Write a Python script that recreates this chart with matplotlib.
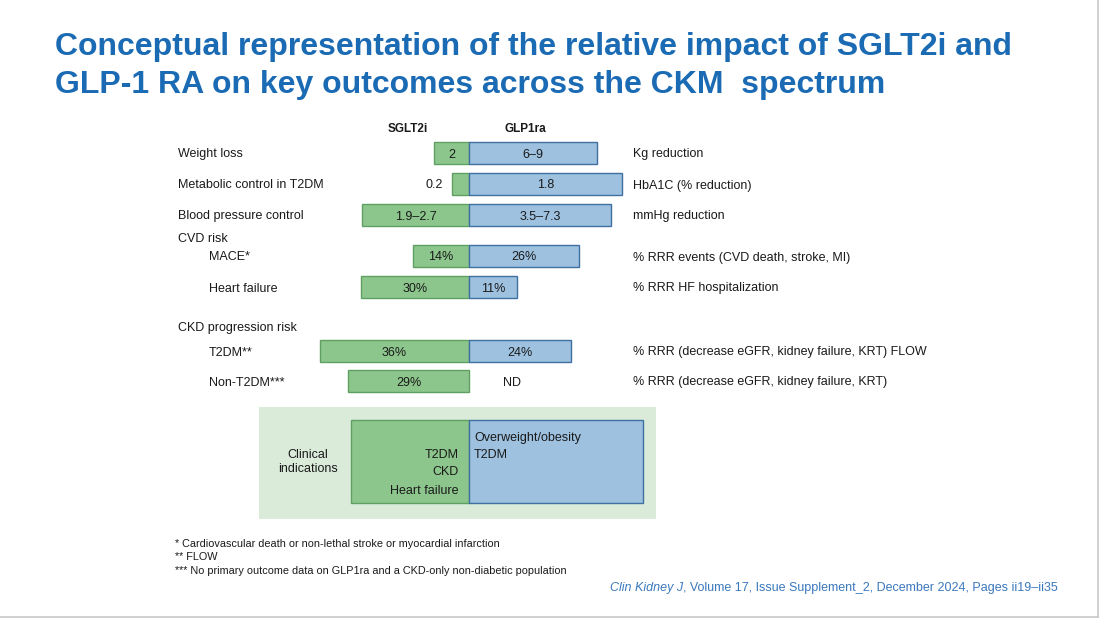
import matplotlib
matplotlib.use("Agg")
import matplotlib.pyplot as plt
from matplotlib.patches import Rectangle
from matplotlib.lines import Line2D

# ---------------- data ----------------
title_lines = ["Conceptual representation of the relative impact of SGLT2i and",
               "GLP-1 RA on key outcomes across the CKM  spectrum"]
drug_names = ["SGLT2i", "GLP1ra"]
outcomes = ["Weight loss", "Metabolic control in T2DM", "Blood pressure control",
            "MACE*", "Heart failure", "T2DM**", "Non-T2DM***"]
indented = [False, False, False, True, True, True, True]
# conceptual bar lengths (arbitrary units)
sglt2_len = [35, 17, 107, 56, 108, 149, 121]
glp1_len = [128, 153, 142, 110, 48, 102, 0]
sglt2_labels = ["2", "0.2", "1.9\u20132.7", "14%", "30%", "36%", "29%"]
glp1_labels = ["6\u20139", "1.8", "3.5\u20137.3", "26%", "11%", "24%", "ND"]
units = ["Kg reduction", "HbA1C (% reduction)", "mmHg reduction",
         "% RRR events (CVD death, stroke, MI)", "% RRR HF hospitalization",
         "% RRR (decrease eGFR, kidney failure, KRT) FLOW",
         "% RRR (decrease eGFR, kidney failure, KRT)"]
group_headings = ["CVD risk", "CKD progression risk"]
indication_title = "Clinical\nindications"
sglt2_indications = ["T2DM", "CKD", "Heart failure"]
glp1_indications = ["Overweight/obesity", "T2DM"]
indication_len = [118, 174]
footnotes = ["* Cardiovascular death or non-lethal stroke or myocardial infarction",
             "** FLOW",
             "*** No primary outcome data on GLP1ra and a CKD-only non-diabetic population"]
citation_italic = "Clin Kidney J"
citation_rest = ", Volume 17, Issue Supplement_2, December 2024, Pages ii19\u2013ii35"

# ---------------- style ----------------
W, H = 1101, 625
plt.rcParams['font.family'] = ['Liberation Sans', 'DejaVu Sans']
GREEN, GREEN_E = "#8cc68c", "#5f9f62"
BLUE, BLUE_E = "#9dc1df", "#3f70a0"
BOXBG = "#daebda"
TITLE_C = "#1b6bb4"
CIT_C = "#3a78bd"
TXT = "#1a1a1a"

fig = plt.figure(figsize=(W / 100, H / 100), dpi=100)
fig.patch.set_facecolor("white")
ax = fig.add_axes([0, 0, 1, 1])
X0 = 469  # centre divider (pixel)
ax.set_xlim(-X0, W - X0)
ax.set_ylim(H, 0)
ax.axis("off")

# title
for yy, line in zip([55.5, 93], title_lines):
    ax.text(55 - X0, yy, line, fontsize=23, fontweight="bold",
            color=TITLE_C, ha="left", va="baseline")

# headers
ax.text(408 - X0, 127, drug_names[0], fontsize=8.5, fontweight="bold", ha="center", va="center_baseline", color=TXT)
ax.text(525 - X0, 127, drug_names[1], fontsize=8.5, fontweight="bold", ha="center", va="center_baseline", color=TXT)

row_y = [153, 184, 215, 256, 287, 351, 381]
heading_y = [238, 327]
bh = 22

ax.barh(row_y, [-v for v in sglt2_len], left=0, height=bh, color=GREEN,
        edgecolor=GREEN_E, linewidth=1)
gy = [y for y, v in zip(row_y, glp1_len) if v > 0]
gv = [v for v in glp1_len if v > 0]
ax.barh(gy, gv, left=0, height=bh, color=BLUE, edgecolor=BLUE_E, linewidth=1)

fs = 9
VA = "center_baseline"
for y, name, ind, sl, gl, slab, glab, u in zip(row_y, outcomes, indented, sglt2_len,
                                                glp1_len, sglt2_labels, glp1_labels, units):
    ax.text((209 if ind else 178) - X0, y, name, fontsize=fs, ha="left", va=VA, color=TXT)
    if sl >= 25:
        ax.text(-sl / 2, y, slab, fontsize=fs, ha="center", va=VA, color=TXT)
    else:
        ax.text(-sl - 9, y, slab, fontsize=fs, ha="right", va=VA, color=TXT)
    if gl > 0:
        ax.text(gl / 2, y, glab, fontsize=fs, ha="center", va=VA, color=TXT)
    else:
        ax.text(43, y, glab, fontsize=fs, ha="center", va=VA, color=TXT)
    ax.text(633 - X0, y, u, fontsize=fs, ha="left", va=VA, color=TXT)

for h, yy in zip(group_headings, heading_y):
    ax.text(178 - X0, yy, h, fontsize=fs, ha="left", va=VA, color=TXT)

# clinical indications box
ax.add_patch(Rectangle((259 - X0, 407), 397, 112, facecolor=BOXBG, edgecolor="none"))
ax.barh([461.5], [-indication_len[0]], left=0, height=83, color=GREEN, edgecolor=GREEN_E, linewidth=1)
ax.barh([461.5], [indication_len[1]], left=0, height=83, color=BLUE, edgecolor=BLUE_E, linewidth=1)
ax.text(308 - X0, 462, indication_title, fontsize=fs, ha="center", va="center",
        color=TXT, linespacing=1.3)
for yy, t in zip([454, 470.5, 490], sglt2_indications):
    ax.text(-10, yy, t, fontsize=fs, ha="right", va=VA, color=TXT)
for yy, t in zip([436, 454], glp1_indications):
    ax.text(5, yy, t, fontsize=fs, ha="left", va=VA, color=TXT)

# footnotes
for yy, t in zip([543, 556.5, 570], footnotes):
    ax.text(175 - X0, yy, t, fontsize=7.8, ha="left", va=VA, color=TXT)

# citation
rest = ax.text(1058 - X0, 587, citation_rest, fontsize=9, ha="right", va=VA, color=CIT_C)
ax.annotate(citation_italic, xy=(0, 0.5), xycoords=rest, ha="right", va="center",
            fontsize=9, style="italic", color=CIT_C)

# slide border
fig.add_artist(Line2D([0, 1098 / W], [1 - 617 / H, 1 - 617 / H], color="#c8c8c8", lw=1.2))
fig.add_artist(Line2D([1098 / W, 1098 / W], [1 - 617 / H, 1], color="#c8c8c8", lw=1.2))

fig.savefig("out.png", dpi=100, facecolor="white")
